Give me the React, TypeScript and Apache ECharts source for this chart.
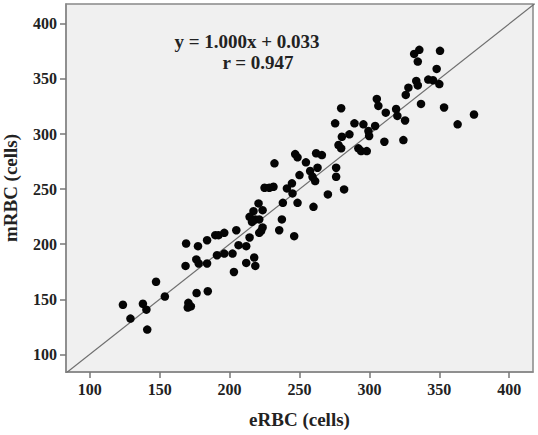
import React, { useEffect, useRef } from "react";
import * as echarts from "echarts";

const eRBC = [
  123.7, 129.1, 138.0, 140.5, 141.1, 147.4, 153.7, 168.5, 176.2, 177.9,
  183.9, 176.4, 184.4, 170.5, 172.3, 170.1, 191.0, 196.2, 202.1, 211.9,
  217.6, 218.4, 203.1, 168.9, 177.4, 183.9, 189.8, 192.1, 196.2, 204.8,
  206.4, 211.9, 214.3, 246.9, 248.6, 232.1, 225.0, 228.4, 231.4, 241.0,
  244.6, 250.0, 245.0, 238.1, 248.6, 220.7, 217.1, 223.6, 214.3, 218.4,
  221.2, 216.0, 237.4, 223.6, 222.6, 221.2, 235.5, 246.2, 279.8, 275.5,
  289.3, 280.3, 285.7, 277.9, 279.8, 292.1, 294.1, 261.9, 266.0, 254.6,
  262.9, 257.6, 259.3, 261.2, 276.2, 276.2, 270.3, 281.9, 298.1, 332.0,
  334.6, 333.5, 327.9, 326.0, 305.3, 306.4, 319.1, 320.0, 311.7, 325.5,
  295.7, 304.1, 299.3, 299.8, 310.7, 324.3, 335.7, 350.5, 348.1, 334.6,
  342.1, 345.5, 350.0, 336.9, 353.4, 374.8, 363.1, 260.0,
];
const mRBC = [
  145.0, 132.5, 145.9, 140.6, 122.5, 165.9, 152.5, 180.3, 186.2, 182.5,
  182.5, 155.7, 157.3, 146.8, 143.6, 142.5, 190.0, 191.5, 191.5, 183.0,
  187.9, 180.3, 174.8, 200.6, 198.2, 203.6, 208.2, 208.2, 210.3, 212.7,
  199.1, 198.2, 206.1, 281.8, 278.8, 273.4, 251.2, 251.2, 252.1, 250.6,
  255.2, 262.7, 246.1, 237.5, 237.5, 237.0, 230.0, 230.9, 224.8, 222.5,
  222.5, 220.3, 222.5, 215.2, 212.1, 210.3, 212.7, 207.3, 323.4, 309.7,
  309.7, 297.5, 299.7, 290.0, 287.0, 287.0, 284.5, 282.5, 280.9, 274.3,
  269.4, 266.4, 261.2, 257.3, 269.4, 261.2, 245.2, 249.7, 284.5, 372.7,
  365.7, 348.2, 342.1, 335.5, 331.8, 325.5, 322.7, 316.4, 319.4, 312.3,
  308.8, 307.3, 302.7, 298.2, 293.0, 294.5, 376.4, 375.5, 359.1, 344.1,
  349.4, 348.8, 345.3, 327.3, 324.1, 317.7, 308.8, 233.9,
];
const tickValues = [100, 150, 200, 250, 300, 350, 400];
const fitSlope = 1.0;
const fitIntercept = 0.033;
const fitX = [70, 430];
const annotationLines = ["y = 1.000x + 0.033", "r = 0.947"];
const xAxisName = "eRBC (cells)";
const yAxisName = "mRBC (cells)";

const FONT = "'Liberation Serif', 'Times New Roman', serif";

export default function App() {
  const ref = useRef<HTMLDivElement>(null);
  useEffect(() => {
    const chart = echarts.init(ref.current!, null, { renderer: "svg" });
    const points = eRBC.map((x, i) => [x, mRBC[i]]);
    const fitLine = fitX.map((x) => [x, fitSlope * x + fitIntercept]);
    const labelStyle = {
      fontFamily: FONT,
      fontWeight: "bold" as const,
      fontSize: 16,
      color: "#222",
    };
    const nameStyle = {
      fontFamily: FONT,
      fontWeight: "bold" as const,
      fontSize: 19,
      color: "#222",
    };
    chart.setOption({
      animation: false,
      backgroundColor: "#ffffff",
      grid: {
        left: 66,
        right: 5,
        top: 4,
        bottom: 63,
        outerBoundsMode: "none",
        containLabel: false,
        show: true,
        backgroundColor: "#f0f0f0",
        borderColor: "#888",
        borderWidth: 1.5,
      },
      xAxis: {
        type: "value",
        min: 83,
        max: 417,
        name: xAxisName,
        nameLocation: "middle",
        nameGap: 38,
        nameTextStyle: nameStyle,
        axisLine: { show: true, lineStyle: { color: "#888", width: 1.5 } },
        axisTick: {
          show: true,
          length: 6,
          customValues: tickValues,
          lineStyle: { color: "#777", width: 1.5 },
        },
        axisLabel: { ...labelStyle, margin: 9, customValues: tickValues },
        splitLine: { show: false },
      },
      yAxis: {
        type: "value",
        min: 84,
        max: 418,
        name: yAxisName,
        nameLocation: "middle",
        nameGap: 46,
        nameTextStyle: nameStyle,
        axisLine: { show: true, lineStyle: { color: "#888", width: 1.5 } },
        axisTick: {
          show: true,
          length: 6,
          customValues: tickValues,
          lineStyle: { color: "#777", width: 1.5 },
        },
        axisLabel: { ...labelStyle, margin: 9, customValues: tickValues },
        splitLine: { show: false },
      },
      series: [
        {
          type: "line",
          data: fitLine,
          symbol: "none",
          clip: true,
          lineStyle: { color: "#6e6e6e", width: 1.2 },
          silent: true,
          z: 1,
        },
        {
          type: "scatter",
          data: points,
          symbol: "circle",
          symbolSize: 8.5,
          itemStyle: { color: "#050505", opacity: 1 },
          z: 2,
        },
      ],
      graphic: [
        {
          type: "text",
          x: 247,
          y: 41,
          style: {
            text: annotationLines[0],
            fontFamily: FONT,
            fontWeight: "bold",
            fontSize: 19,
            fill: "#222",
            textAlign: "center",
            textVerticalAlign: "middle",
          },
        },
        {
          type: "text",
          x: 258,
          y: 62,
          style: {
            text: annotationLines[1],
            fontFamily: FONT,
            fontWeight: "bold",
            fontSize: 19,
            fill: "#222",
            textAlign: "center",
            textVerticalAlign: "middle",
          },
        },
      ],
    });
    return () => chart.dispose();
  }, []);
  return (
    <div
      ref={ref}
      style={{ position: "absolute", left: 0, top: 0, width: 538, height: 435 }}
    />
  );
}
